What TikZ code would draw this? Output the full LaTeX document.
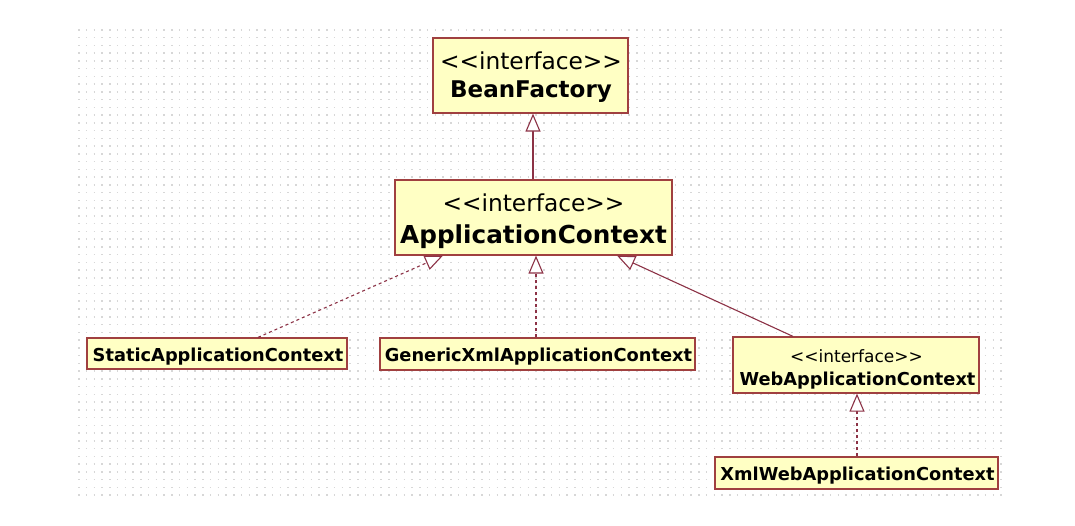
\documentclass[tikz,border=0pt]{standalone}
\usepackage{fontspec}
\setmainfont{DejaVu Sans}
\usetikzlibrary{arrows.meta,calc}
\definecolor{boxfill}{RGB}{255,255,196}
\definecolor{boxdraw}{RGB}{160,64,64}
\definecolor{linkcol}{RGB}{140,50,70}
\definecolor{dotcol}{RGB}{215,215,215}
\newcommand\stereotxt{<\kern0pt<interface>\kern0pt>}
\tikzset{
  umlbox/.style={draw=boxdraw, fill=boxfill, line width=1.2pt, inner sep=0pt, rectangle},
  stereo/.style={anchor=base, inner sep=0pt, font=\fontsize{#1}{#1}\selectfont},
  cname/.style={anchor=base, inner sep=0pt, font=\fontsize{#1}{#1}\selectfont\bfseries},
  gen/.style={draw=linkcol, line width=1.1pt, -{Triangle[length=18pt,width=15pt,fill=white,line width=1.1pt]}},
  real/.style={gen, dash pattern=on 3pt off 3pt},
}
\begin{document}
\begin{tikzpicture}[x=1pt,y=-1pt]
\useasboundingbox (0,0) rectangle (1075,526);
\fill[white] (0,0) rectangle (1075,526);
% dotted grid
\foreach \yy in {30,37.75,...,500}
  \draw[dotcol, line width=1.5pt, dash pattern=on 1.5pt off 6.25pt] (78,\yy) -- (1004,\yy);

% boxes
\node[umlbox, minimum width=195pt, minimum height=75pt] (BF) at (530.5,75.5) {};
\node[stereo=23.3] (BFs) at (531,70) {\stereotxt};
\node[cname=23] (BFn) at (531,98) {BeanFactory};

\node[umlbox, minimum width=277pt, minimum height=75pt] (AC) at (533.5,217.5) {};
\node[stereo=23.3] (ACs) at (533.5,212) {\stereotxt};
\node[cname=24.7] (ACn) at (533.5,244) {ApplicationContext};

\node[umlbox, minimum width=260pt, minimum height=31pt] (SAC) at (217,353.5) {};
\node[cname=17.8] (SACn) at (218,361) {StaticApplicationContext};

\node[umlbox, minimum width=315pt, minimum height=32pt] (GXAC) at (537.5,354) {};
\node[cname=17.8] (GXACn) at (538.5,361) {GenericXmlApplicationContext};

\node[umlbox, minimum width=246pt, minimum height=56pt] (WAC) at (856,365) {};
\node[stereo=17] (WACs) at (856.5,362) {\stereotxt};
\node[cname=17.8] (WACn) at (857.5,385) {WebApplicationContext};

\node[umlbox, minimum width=283pt, minimum height=32pt] (XWAC) at (856.5,473) {};
\node[cname=17.8] (XWACn) at (857.5,480) {XmlWebApplicationContext};

% connectors
\draw[gen] (AC.north -| 533,0) -- (BF.south -| 533,0);
\draw[real] ($(SAC.north)+(41,0)$) -- ($(AC.south)+(-90.5,0)$);
\draw[real] (GXAC.north -| 536,0) -- (AC.south -| 536,0);
\draw[gen] ($(WAC.north)+(-63,0)$) -- ($(AC.south)+(83.5,0)$);
\draw[real] (XWAC.north -| 857,0) -- (WAC.south -| 857,0);
\end{tikzpicture}
\end{document}
